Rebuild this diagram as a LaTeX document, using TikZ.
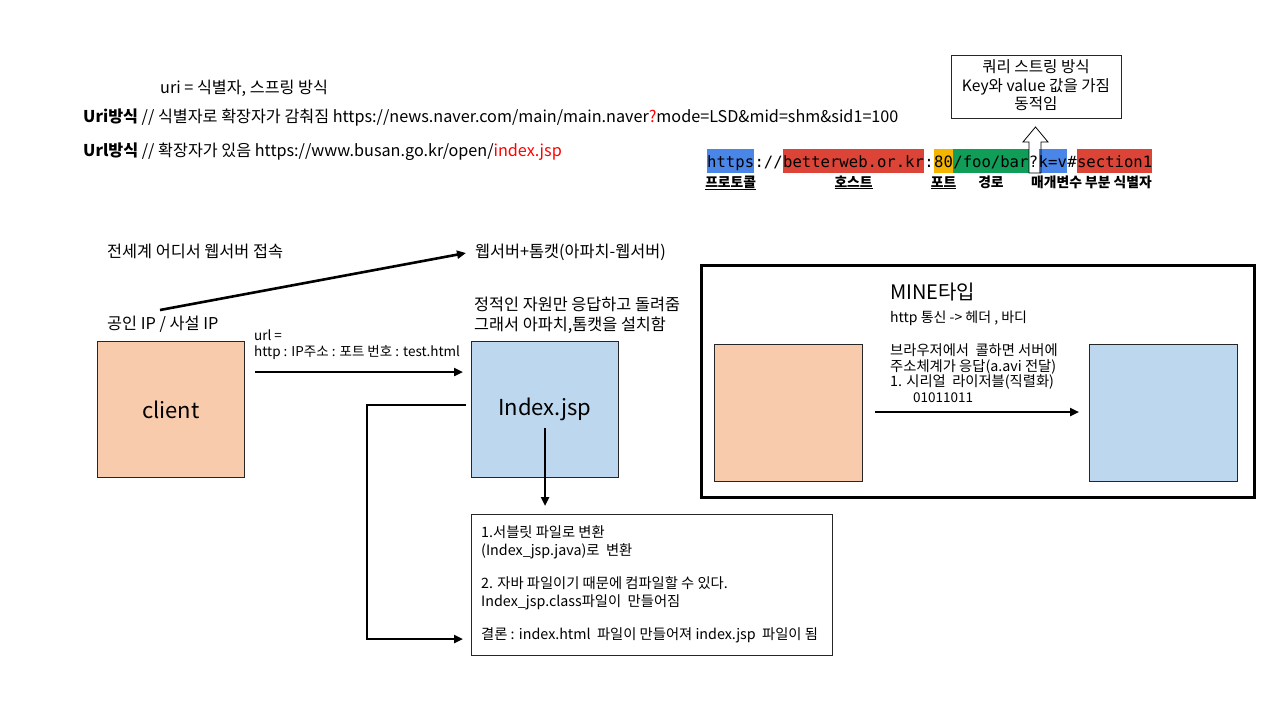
\documentclass[tikz,border=0pt]{standalone}
\usepackage{fontspec}
\setmainfont{Noto Sans CJK KR}
\newfontfamily\monof{DejaVu Sans Mono}
\usetikzlibrary{arrows.meta}
\definecolor{peach}{HTML}{F8CBAD}
\definecolor{lblue}{HTML}{BDD7EE}
\definecolor{gblue}{HTML}{4A86E8}
\definecolor{gred}{HTML}{DB4437}
\definecolor{gyellow}{HTML}{F4B400}
\definecolor{ggreen}{HTML}{0F9D58}
\begin{document}
\begin{tikzpicture}[x=1pt,y=-1pt,
  txt/.style={anchor=base west,inner sep=0pt},
  ctxt/.style={anchor=base,inner sep=0pt},
  fa/.style={font=\fontsize{16.2}{19}\selectfont},
  fq/.style={font=\fontsize{15.6}{18}\selectfont},
  fb/.style={font=\fontsize{16.3}{19}\selectfont},
  fs/.style={font=\fontsize{13.5}{15}\selectfont},
  fm/.style={font=\fontsize{14.3}{16}\selectfont},
  fl/.style={font=\fontsize{22}{26}\selectfont},
  lab/.style={ctxt,font=\bfseries\fontsize{13.8}{15}\selectfont},
  box/.style={draw=black!85,line width=0.8pt,anchor=north west,inner sep=0pt},
  arr/.style={line width=2.6pt,-{Triangle[length=9pt,width=8pt]}},
  seg/.style={inner sep=0pt,anchor=base west,text height=18pt,text depth=6pt,font=\monof\fontsize{15.6}{18}\selectfont},
]
\useasboundingbox (0,0) rectangle (1280,720);
% top left texts
\node[txt,fa] (t1) at (160,93) {uri = 식별자, 스프링 방식};
\node[txt,fa] (t2) at (83,122) {\textbf{Uri방식} // 식별자로 확장자가 감춰짐 https://news.naver.com/main/main.naver\textcolor{red}{?}mode=LSD\&mid=shm\&sid1=100};
\node[txt,fa] (t3) at (83,156) {\textbf{Url방식} // 확장자가 있음 https://www.busan.go.kr/open/\textcolor{red}{index.jsp}};
% query box
\node[box,minimum width=170,minimum height=63] (qbox) at (951,55) {};
\node[ctxt,fq] (q1) at (1036,72) {쿼리 스트링 방식};
\node[ctxt,fq] (q2) at (1036,91) {Key와 value 값을 가짐};
\node[ctxt,fq] (q3) at (1036,109) {동적임};
% url bar
\node[seg,fill=gblue] (u1) at (707,167) {https};
\node[seg] (u2) at (u1.base east) {://};
\node[seg,fill=gred] (u3) at (u2.base east) {betterweb.or.kr};
\node[seg] (u4) at (u3.base east) {:};
\node[seg,fill=gyellow] (u5) at (u4.base east) {80};
\node[seg,fill=ggreen] (u6) at (u5.base east) {/foo/bar};
\node[seg] (u7) at (u6.base east) {?};
\node[seg,fill=gblue] (u8) at (u7.base east) {k=v};
\node[seg] (u9) at (u8.base east) {\#};
\node[seg,fill=gred] (u10) at (u9.base east) {section1};
\node[lab] (l1) at (u1.base |- 0,187) {\underline{프로토콜}};
\node[lab] (l2) at (u3.base |- 0,187) {\underline{호스트}};
\node[lab] (l3) at (u5.base |- 0,187) {\underline{포트}};
\node[lab] (l4) at (u6.base |- 0,187) {경로};
\node[lab,anchor=base west] (l5) at (1031,187) {매개변수 부분 식별자};
\draw[line width=0.8pt] (1029,173) -- (1029,142) -- (1023,142) -- (1035.5,127) -- (1048,142) -- (1041,142) -- (1041,173) -- cycle;
% middle left
\node[txt,fb] (w1) at (107,257) {전세계 어디서 웹서버 접속};
\node[txt,fb] (w2) at (475,257) {웹서버+톰캣(아파치-웹서버)};
\node[txt,fb] (w3) at (107,329) {공인 IP / 사설 IP};
\node[txt,fb] (w4) at (474,310) {정적인 자원만 응답하고 돌려줌};
\node[txt,fb] (w5) at (474,330) {그래서 아파치,톰캣을 설치함};
\node[txt,fs] (w6) at (254,340) {url =};
\node[txt,fs] (w7) at (254,356) {http : IP주소 : 포트 번호 : test.html};
\node[box,fill=peach,minimum width=147,minimum height=136,fl] (client) at (97,341) {client};
\node[box,fill=lblue,minimum width=147,minimum height=136,fl] (index) at (471,341) {Index.jsp};
\node[box,minimum width=361,minimum height=141] (conv) at (471,514) {};
\node[txt,fm] (c1) at (481,537) {1.서블릿 파일로 변환};
\node[txt,fm] (c2) at (481,555) {(Index\_jsp.java)로 \ 변환};
\node[txt,fm] (c3) at (481,588) {2. 자바 파일이기 때문에 컴파일할 수 있다.};
\node[txt,fm] (c4) at (481,606) {Index\_jsp.class파일이 \ 만들어짐};
\node[txt,fm] (c5) at (481,639) {결론 : index.html \ 파일이 만들어져 index.jsp \ 파일이 됨};
\coordinate (s1) at (160,310); \coordinate (e1) at (466,253);
\draw[arr] (s1) -- (e1);
\coordinate (s2) at (255,372); \coordinate (e2) at (463,372);
\draw[arr] (s2) -- (e2);
\coordinate (s3) at (545,428); \coordinate (e3) at (545,506);
\draw[arr] (s3) -- (e3);
\coordinate (s4) at (466,405); \coordinate (k1) at (367,405); \coordinate (k2) at (367,639); \coordinate (e4) at (463,639);
\draw[arr] (s4) -- (k1) -- (k2) -- (e4);
% right
\node[box,draw=black,line width=2.6pt,minimum width=553,minimum height=232] (mime) at (700,264) {};
\node[box,fill=peach,minimum width=148,minimum height=137] (rp) at (714,344) {};
\node[box,fill=lblue,minimum width=148,minimum height=137] (rb) at (1089,344) {};
\node[txt,font=\fontsize{20}{24}\selectfont] (m1) at (890,299) {MINE타입};
\node[txt,font=\fontsize{14}{16}\selectfont] (m2) at (890,322) {http 통신 -> 헤더 , 바디};
\node[txt,fm] (m3) at (890,355) {브라우저에서 \ 콜하면 서버에};
\node[txt,fm] (m4) at (890,371) {주소체계가 응답(a.avi 전달)};
\node[txt,fm] (m5) at (890,386) {1. 시리얼 \ 라이저블(직렬화)};
\node[txt,fs] (m6) at (913,402) {01011011};
\coordinate (s5) at (875,412); \coordinate (e5) at (1079,412);
\draw[arr] (s5) -- (e5);
\end{tikzpicture}
\end{document}
